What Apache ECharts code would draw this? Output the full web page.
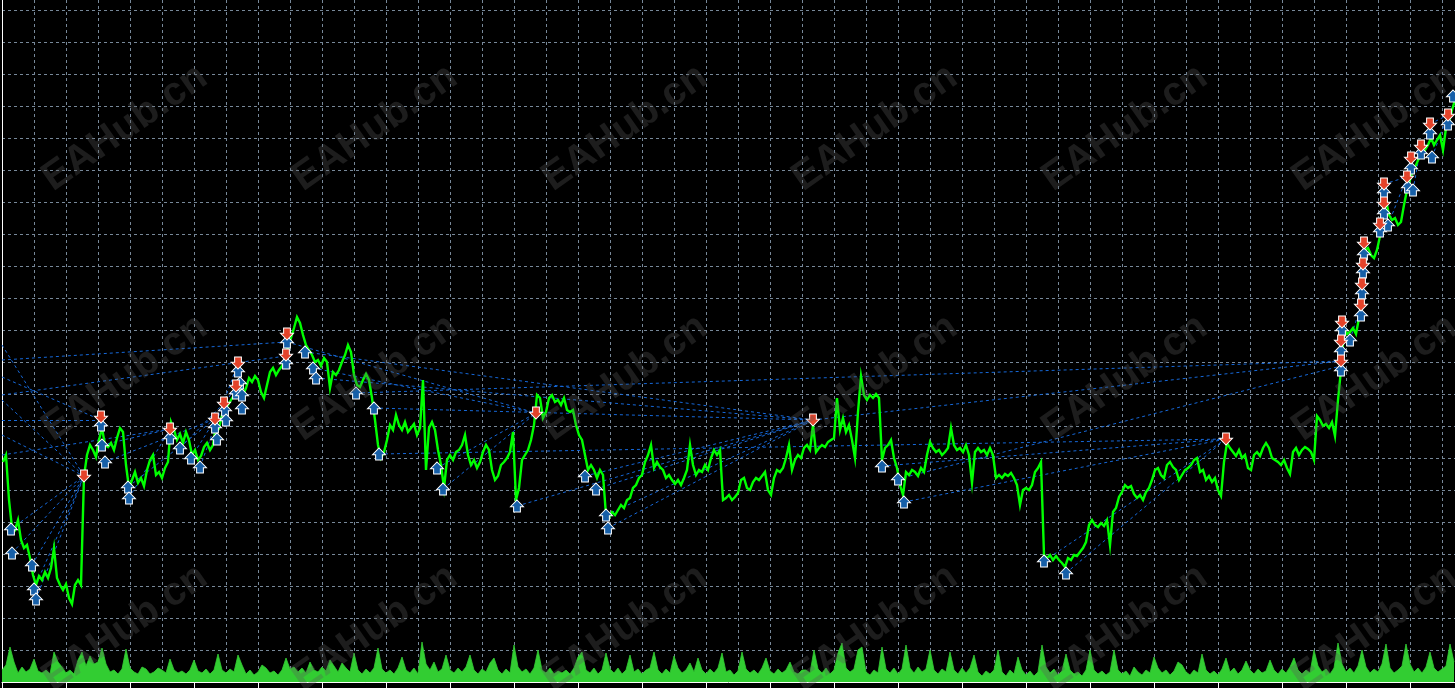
<!DOCTYPE html>
<html>
<head>
<meta charset="utf-8">
<script src="https://cdn.jsdelivr.net/npm/echarts@6/dist/echarts.min.js"></script>
<style>
html,body{margin:0;padding:0;background:#000;}
#chart{width:1455px;height:688px;}
</style>
</head>
<body>
<div id="chart"></div>
<script>
// ---- data (time in minutes from left edge, price level in points) ----
const priceStart = 1, priceStep = 3;
const prices = [
220,227,182,154,152,162,142,134,137,124,
107,97,106,102,110,104,114,134,104,97,
92,98,84,78,97,102,97,206,227,237,
232,225,242,254,237,235,239,232,244,254,
250,217,194,202,210,199,204,196,212,222,
227,207,210,204,214,220,260,252,242,248,
239,250,242,227,232,222,226,235,239,232,
237,257,254,267,272,277,282,287,292,296,
287,294,304,300,306,302,290,284,297,310,
314,307,312,316,322,335,344,354,365,359,
347,337,332,327,320,322,316,324,320,294,
310,307,312,320,327,337,330,307,297,295,
302,308,302,284,262,237,224,230,242,257,
252,267,257,252,260,250,254,258,247,254,
302,212,254,260,252,232,217,194,222,227,
222,230,232,237,247,227,217,222,214,220,
230,237,232,212,202,206,217,220,224,230,
250,182,194,222,227,232,242,257,287,284,
264,270,284,287,280,282,277,284,272,270,
272,257,247,242,227,212,217,212,204,212,
207,167,164,170,167,172,177,174,182,184,
194,197,204,207,220,227,237,214,220,215,
212,204,207,202,198,202,197,204,212,237,
217,207,212,210,217,212,224,232,227,232,
182,184,187,182,185,189,202,204,194,192,
200,204,202,206,210,192,187,204,212,210,
214,224,237,212,222,227,224,234,237,232,
257,230,234,237,235,240,242,244,284,252,
264,250,257,242,224,270,306,287,282,287,
284,288,284,222,234,237,242,224,214,197,
187,210,207,212,210,206,214,210,227,240,
234,230,232,227,230,234,254,237,232,234,
230,237,227,199,230,234,230,232,227,234,
227,204,207,204,208,206,209,204,197,177,
192,194,192,197,210,214,220,127,124,127,
122,126,122,119,115,124,122,127,126,130,
134,140,157,162,157,155,159,156,162,137,
170,174,185,190,197,194,196,188,184,187,
182,190,194,202,212,214,207,204,217,220,
215,212,202,207,212,214,217,222,224,210,
212,202,206,200,204,192,186,220,239,234,
230,226,232,224,227,214,212,227,230,226,
234,239,234,224,222,220,217,222,214,208,
230,234,227,232,235,233,230,222,266,262,
256,258,254,260,246,282,312,354,348,350,
354,348,364,382,432,434,427,424,432,446,
472,482,467,462,464,457,460,477,492,502,
512,517,524,527,532,537,544,537,542,547,
532,554,560,572,582
];

const volStart = 0, volStep = 4;
const volumes = [
12,17,35,20,9,15,10,13,23,11,
9,12,8,30,20,15,9,12,8,22,
30,16,26,18,20,34,18,10,12,8,
13,33,14,10,8,15,13,8,10,14,
12,9,23,12,9,11,8,12,22,11,
9,13,8,12,28,12,9,13,10,27,
17,8,12,7,10,17,14,9,11,7,
12,24,13,15,10,14,9,20,12,10,
15,11,22,16,10,19,14,10,29,12,
8,13,9,14,34,13,9,12,8,14,
25,12,9,14,8,40,18,12,20,10,
13,27,12,9,14,10,15,27,12,8,
13,10,19,24,12,8,13,9,37,15,
10,13,8,14,32,12,9,14,8,11,
9,12,8,14,25,30,12,9,14,8,
12,29,13,9,14,8,12,27,10,13,
8,12,14,30,12,8,13,9,26,14,
9,12,19,10,24,12,8,13,9,14,
29,10,12,7,11,30,13,9,12,8,
14,24,11,8,13,9,12,20,10,8,
12,12,9,32,13,9,14,8,12,29,
39,14,10,13,32,35,10,7,12,9,
35,13,9,14,8,13,37,14,9,15,
10,13,32,12,8,13,10,30,12,8,
14,9,14,27,10,6,11,8,12,32,
10,6,12,8,25,12,7,11,6,10,
37,15,9,13,7,11,28,12,8,10,
6,12,32,12,8,11,7,10,32,12,
8,11,6,15,10,7,12,9,25,14,
9,12,7,11,20,17,10,7,12,9,
28,12,8,11,7,13,24,10,14,8,
12,21,12,8,13,9,11,22,12,8,
13,9,15,24,12,8,12,9,32,16,
10,13,8,14,39,18,10,14,9,16,
32,15,9,13,10,18,38,14,9,12,
16,38,18,10,14,9,15,30,14,10,
13,16,38,20
];

// trade arrows [time, price]
const buys = [
[9,153],[10,129],[30,117],[32,93],[34,83],[99,257],[100,237],[103,220],[126,195],[127,184],
[168,244],[178,234],[189,224],[198,215],[213,255],[215,243],[223,272],[224,262],[234,289],[236,311],
[238,299],[240,287],[240,274],[284,319],[285,340],[303,330],[311,314],[314,304],[354,289],[372,274],
[377,228],[435,214],[441,193],[515,176],[583,206],[594,193],[604,167],[606,154],[880,216],[896,203],
[902,180],[1042,121],[1064,109],[1339,312],[1339,331],[1340,352],[1348,342],[1359,367],[1360,389],[1361,410],
[1362,428],[1378,451],[1386,457],[1382,469],[1382,490],[1406,495],[1411,492],[1409,514],[1419,529],[1428,549],
[1430,525],[1446,558],[1451,586]
];
const sells = [
[82,206],[99,265],[168,253],[213,263],[222,279],[234,296],[236,319],[285,348],[284,327],[534,269],
[811,262],[1224,243],[1339,321],[1339,341],[1340,360],[1359,377],[1360,398],[1361,418],[1362,439],[1378,458],
[1382,479],[1382,498],[1405,505],[1409,524],[1419,536],[1428,558],[1446,567]
];
// trade connection lines [openTime, openPrice, closeTime, closePrice]
const trades = [
[0,337,82,206],[0,305,99,262],[0,282,82,206],[0,262,99,262],[0,247,82,206],[0,227,168,253],
[0,322,285,340],[0,287,284,326],[9,153,82,206],[10,129,82,206],[30,117,82,206],[32,93,82,206],
[34,83,82,206],[100,237,168,253],[103,220,213,263],[126,195,213,263],[127,184,168,253],[178,234,222,279],
[189,224,234,296],[198,215,236,319],[285,340,534,269],[303,330,811,262],[354,289,1339,321],[314,304,811,262],
[311,314,534,269],[372,274,811,262],[377,228,1224,243],[435,214,534,269],[441,193,534,269],[515,176,811,262],
[583,206,811,262],[594,193,811,262],[604,167,811,262],[606,154,811,262],[811,262,1339,321],[880,216,1224,243],
[896,203,1339,316],[902,180,1224,243],[1042,121,1224,243],[1064,109,1224,243],[1348,342,1359,377],
[1386,457,1405,505],[1382,498,1405,505],[1411,492,1419,536],[1430,525,1446,567],[1428,558,1446,567]
];
const watermark = 'EAHub.cn';

// ---- build ----
const priceData = prices.map((v, i) => [priceStart + priceStep * i, v]);
const volData = volumes.map((v, i) => [volStart + volStep * i, v]);
const tradeData = trades.map(t => ({coords: [[t[0], t[1]], [t[2], t[3]]]}));

const gridColor = '#778899';
const wm = [];
for (let r = 0; r < 3; r++) {
  for (let c = 0; c < 6; c++) {
    wm.push({
      type: 'text', x: 125 + 250 * c, y: 128 + 250 * r,
      rotation: 35 * Math.PI / 180, silent: true, z: 100,
      style: {
        text: watermark, fill: 'rgba(90,90,90,0.32)',
        font: 'bold 40px "Liberation Sans", Arial, sans-serif',
        textAlign: 'center', textVerticalAlign: 'middle'
      }
    });
  }
}

const chart = echarts.init(document.getElementById('chart'), null, {renderer: 'canvas'});
chart.setOption({
  backgroundColor: '#000',
  animation: false,
  grid: {left: 2, right: 0, top: 0, bottom: 6, containLabel: false},
  xAxis: [{
    type: 'value', min: 0, max: 1453, interval: 32,
    axisLine: {show: true, lineStyle: {color: '#fff', width: 1}},
    axisTick: {show: false}, axisLabel: {show: false},
    splitLine: {show: true, showMinLine: false, showMaxLine: false,
      lineStyle: {color: gridColor, type: [3, 3], width: 1}}
  }, {
    type: 'value', min: 0, max: 1453, interval: 64, position: 'bottom',
    axisLine: {show: false},
    axisTick: {show: true, length: 6, lineStyle: {color: '#fff'}},
    axisLabel: {show: false}, splitLine: {show: false}
  }],
  yAxis: [{
    type: 'value', min: 0, max: 682, interval: 32,
    axisLine: {show: true, lineStyle: {color: '#fff', width: 1}},
    axisTick: {show: false}, axisLabel: {show: false},
    splitLine: {show: true, showMinLine: false, showMaxLine: false,
      lineStyle: {color: gridColor, type: [3, 3], width: 1}}
  }, {
    type: 'value', min: 0, max: 682, show: false, splitLine: {show: false}
  }],
  series: [{
    type: 'line', name: 'volume', yAxisIndex: 1, data: volData,
    showSymbol: false, z: 1,
    lineStyle: {color: '#32cd32', width: 0.8},
    areaStyle: {color: '#32cd32', opacity: 1}
  }, {
    type: 'lines', coordinateSystem: 'cartesian2d', data: tradeData, z: 2,
    lineStyle: {color: '#1668d8', width: 1, type: [3, 3], opacity: 1, curveness: 0}
  }, {
    type: 'line', name: 'price', data: priceData, showSymbol: false, z: 3,
    lineStyle: {color: '#00ff00', width: 2.4, join: 'miter'}
  }, {
    type: 'scatter', name: 'buy', data: buys, z: 4,
    symbol: 'path://M5,0L10,5L7.6,5L7.6,9L2.4,9L2.4,5L0,5Z', symbolSize: [13, 12],
    itemStyle: {color: '#165fa8', borderColor: '#fff', borderWidth: 1, opacity: 1}
  }, {
    type: 'scatter', name: 'sell', data: sells, z: 5,
    symbol: 'path://M2.4,0L7.6,0L7.6,4L10,4L5,9L0,4L2.4,4Z', symbolSize: [13, 12],
    itemStyle: {color: '#e4432a', borderColor: '#fff', borderWidth: 1, opacity: 1}
  }],
  graphic: wm
});
</script>
</body>
</html>
